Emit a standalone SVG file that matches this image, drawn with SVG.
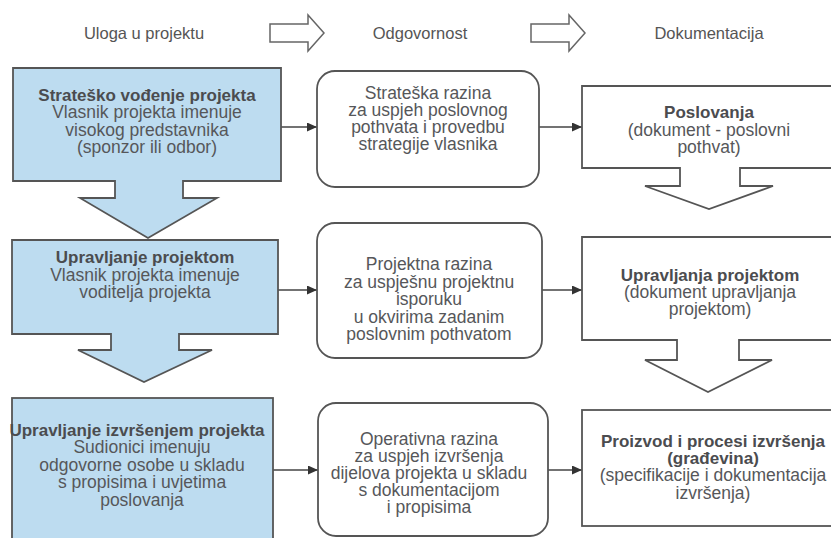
<svg xmlns="http://www.w3.org/2000/svg" width="831" height="538" viewBox="0 0 831 538">
<defs>
<style>
.hdr{font-family:"Liberation Sans",Arial,sans-serif;font-size:16.5px;fill:#555;text-anchor:middle}
.t{font-family:"Liberation Sans",Arial,sans-serif;font-size:17.5px;fill:#56575a;text-anchor:middle}
.b{font-weight:bold;font-size:17px;fill:#4b4c4f}
.blue{fill:#bddcf0;stroke:#555;stroke-width:1.8}
.wht{fill:#fff;stroke:#555;stroke-width:1.8}
.big{fill:#fff;stroke:#666;stroke-width:1.5}
.con{stroke:#444;stroke-width:1.6;fill:none;marker-end:url(#ah)}
</style>
<marker id="ah" markerUnits="userSpaceOnUse" markerWidth="10" markerHeight="9" refX="10" refY="4.5" orient="auto">
<path d="M0,0 L10,4.5 L0,9 Z" fill="#333"/>
</marker>
</defs>
<rect width="831" height="538" fill="#fff"/>
<g id="header">
<text class="hdr" x="144" y="39">Uloga u projektu</text>
<polygon class="big" points="270,24 308,24 308,15 324,33 308,51 308,42 270,42"/>
<text class="hdr" x="420" y="39">Odgovornost</text>
<polygon class="big" points="531,24 569,24 569,15 585,33 569,51 569,42 531,42"/>
<text class="hdr" x="709" y="39">Dokumentacija</text>
</g>
<g id="connectors">
<line class="con" x1="281" y1="127" x2="317" y2="127"/>
<line class="con" x1="539" y1="127" x2="582" y2="127"/>
<line class="con" x1="278" y1="290" x2="317" y2="290"/>
<line class="con" x1="542" y1="290" x2="582" y2="290"/>
<line class="con" x1="273" y1="470" x2="318" y2="470"/>
<line class="con" x1="548" y1="470" x2="582" y2="470"/>
</g>
<g id="uloga1">
<path class="blue" d="M13,68 H281 V181 H183 V198 H217 L148,238 L80,198 H115 V181 H13 Z"/>
<text class="t b" x="147" y="101">Strateško vođenje projekta</text>
<text class="t" x="147" y="118.3">Vlasnik projekta imenuje</text>
<text class="t" x="147" y="135.6">visokog predstavnika</text>
<text class="t" x="147" y="152.9">(sponzor ili odbor)</text>
</g>
<g id="uloga2">
<path class="blue" d="M12,240 H278 V334 H179 V350 H212 L144,382 L78,350 H111 V334 H12 Z"/>
<text class="t b" x="145" y="263">Upravljanje projektom</text>
<text class="t" x="145" y="280.5">Vlasnik projekta imenuje</text>
<text class="t" x="145" y="298">voditelja projekta</text>
</g>
<g id="uloga3">
<rect class="blue" x="12" y="398" width="261" height="160"/>
<text class="t b" x="137" y="436">Upravljanje izvršenjem projekta</text>
<text class="t" x="142" y="453.4">Sudionici imenuju</text>
<text class="t" x="142" y="470.8">odgovorne osobe u skladu</text>
<text class="t" x="142" y="488.2">s propisima i uvjetima</text>
<text class="t" x="142" y="505.6">poslovanja</text>
</g>
<g id="odg1">
<rect class="wht" x="317" y="71" width="222" height="116" rx="18"/>
<text class="t" x="428" y="98.5">Strateška razina</text>
<text class="t" x="428" y="115.8">za uspjeh poslovnog</text>
<text class="t" x="428" y="133.1">pothvata i provedbu</text>
<text class="t" x="428" y="150.4">strategije vlasnika</text>
</g>
<g id="odg2">
<rect class="wht" x="317" y="223" width="225" height="135" rx="18"/>
<text class="t" x="429" y="270">Projektna razina</text>
<text class="t" x="429" y="287.5">za uspješnu projektnu</text>
<text class="t" x="429" y="305">isporuku</text>
<text class="t" x="429" y="322.5">u okvirima zadanim</text>
<text class="t" x="429" y="340">poslovnim pothvatom</text>
</g>
<g id="odg3">
<rect class="wht" x="318" y="403" width="230" height="133" rx="18"/>
<text class="t" x="429" y="445">Operativna razina</text>
<text class="t" x="429" y="462">za uspjeh izvršenja</text>
<text class="t" x="429" y="479">dijelova projekta u skladu</text>
<text class="t" x="429" y="496">s dokumentacijom</text>
<text class="t" x="429" y="513">i propisima</text>
</g>
<g id="dok1">
<path class="wht" d="M582,86 H845 V168 H740 V186 H773 L709,209 L645,186 H680 V168 H582 Z"/>
<text class="t b" x="709" y="118.3">Poslovanja</text>
<text class="t" x="709" y="135.6">(dokument - poslovni</text>
<text class="t" x="709" y="152.9">pothvat)</text>
</g>
<g id="dok2">
<path class="wht" d="M582,237 H845 V340 H739 V360 H772 L708,392 L645,360 H677 V340 H582 Z"/>
<text class="t b" x="710" y="280.5">Upravljanja projektom</text>
<text class="t" x="710" y="297.8">(dokument upravljanja</text>
<text class="t" x="710" y="315.1">projektom)</text>
</g>
<g id="dok3">
<rect class="wht" x="582" y="410" width="263" height="116"/>
<text class="t b" x="713" y="446.7">Proizvod i procesi izvršenja</text>
<text class="t b" x="713" y="464">(građevina)</text>
<text class="t" x="713" y="481.3">(specifikacije i dokumentacija</text>
<text class="t" x="713" y="498.6">izvršenja)</text>
</g>
</svg>
